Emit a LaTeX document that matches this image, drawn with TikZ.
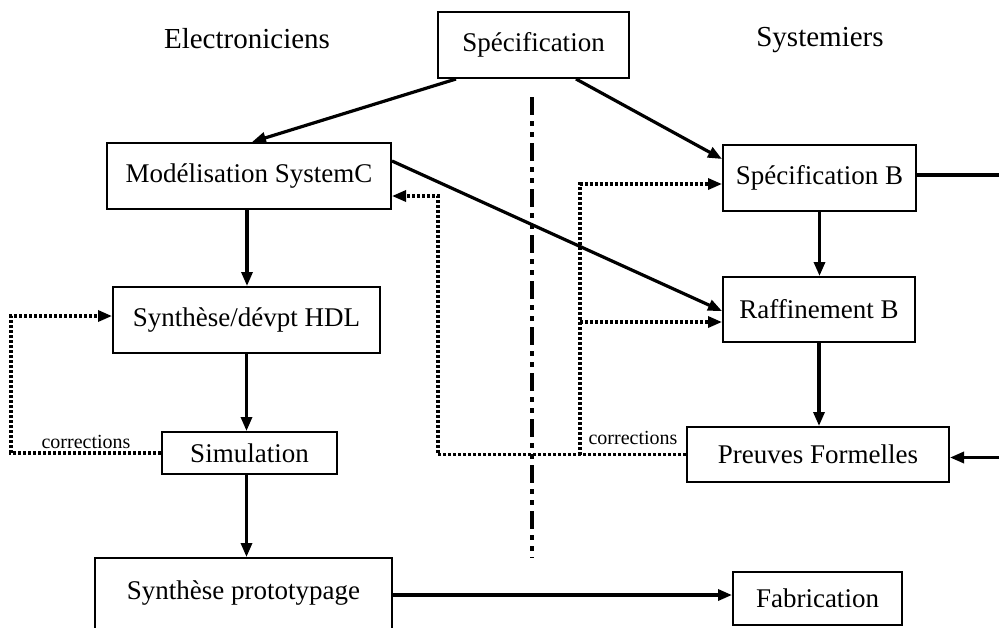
\documentclass[tikz,border=0pt]{standalone}
\usepackage{fontspec}
\setmainfont{Liberation Serif}
\usetikzlibrary{arrows.meta,calc}
\begin{document}
\begin{tikzpicture}[x=1pt,y=-1pt,
  box/.style={draw,line width=2pt,inner sep=0pt,font=\fontsize{27}{30}\selectfont},
  head/.style={inner sep=0pt,font=\fontsize{29}{32}\selectfont},
  note/.style={inner sep=0pt,font=\fontsize{20}{22}\selectfont},
  tip/.style={-{Triangle[length=14pt,width=11pt]}},
  flow/.style={tip,line width=3.2pt},
  fix/.style={tip,line width=3.2pt,dash pattern=on 3pt off 2pt},
  divider/.style={line width=3.2pt,dash pattern=on 18pt off 6pt on 5pt off 6pt on 5pt off 6pt}
]
\clip (0,0) rectangle (999,627);

% column headings
\node[head] (elec) at (247,39) {Electroniciens};
\node[head] (sys)  at (820,40) {Systemiers};

% boxes
\node[box,minimum width=191pt,minimum height=66pt] (spec)    at (533.5,45)  {Spécification};
\node[box,minimum width=284pt,minimum height=66pt] (model)   at (249,176)   {Modélisation SystemC};
\node[box,minimum width=267pt,minimum height=66pt] (hdl)     at (246.5,320) {Synthèse/dévpt HDL};
\node[box,minimum width=175pt,minimum height=42pt] (simu)    at (249.5,453) {Simulation};
\node[box,minimum width=297pt,minimum height=90pt] (proto)   at (243.5,603) {};
\node[font=\fontsize{27}{30}\selectfont,inner sep=0pt] (protolbl) at (243.5,593) {Synthèse prototypage};
\node[box,minimum width=169pt,minimum height=53pt] (fab)     at (817.5,598.5) {Fabrication};
\node[box,minimum width=193pt,minimum height=66pt] (specB)   at (819.5,178) {Spécification B};
\node[box,minimum width=192pt,minimum height=65pt] (raff)    at (819,309.5) {Raffinement B};
\node[box,minimum width=262pt,minimum height=55pt] (preuves) at (818,454.5) {Preuves Formelles};

% separation between the two teams
\coordinate (dtop) at (532,97);
\coordinate (dbot) at (532,558);
\draw[divider] (dtop) -- (dbot);

% main flow
\draw[flow] ($(spec.south west)+(19,0)$) -- ($(model.north west)+(146,0)$);
\draw[flow] ($(spec.south west)+(139,0)$) -- ($(specB.north west)+(0,15)$);
\draw[flow] ($(model.north east)+(0,19)$) -- ($(raff.north west)+(0,35)$);
\draw[flow] ($(model.south)+(-2,0)$) -- ($(model.south |- hdl.north)+(-2,0)$);
\draw[flow] (hdl.south) -- (hdl.south |- simu.north);
\draw[flow] ($(simu.south)+(-3,0)$) -- ($(simu.south |- proto.north)+(-3,0)$);
\draw[flow] (specB.south) -- (specB.south |- raff.north);
\draw[flow] (raff.south) -- (raff.south |- preuves.north);
\coordinate (fabin) at ($(fab.west)+(0,-3.5)$);
\draw[flow] (proto.east |- fabin) -- (fabin);
\draw[flow] ($(specB.east)+(0,-3)$) -- ++(100,0) |- ($(preuves.east)+(0,3)$);

% correction loops
\draw[fix] (simu.west) -- ++(-150,0) |- ($(hdl.north west)+(0,30)$);
\node[note] (corrL) at (86,442) {corrections};

\draw[fix] (preuves.west) -| ($(model.north east)+(46,54)$) -- ($(model.north east)+(0,54)$);
\coordinate (j) at (580,454.5);
\draw[fix] (j) |- ($(specB.north west)+(0,40)$);
\coordinate (rin) at ($(raff.north west)+(0,46)$);
\draw[fix] (j |- rin) -- (rin);
\node[note] (corrR) at (633,438) {corrections};
\end{tikzpicture}
\end{document}
